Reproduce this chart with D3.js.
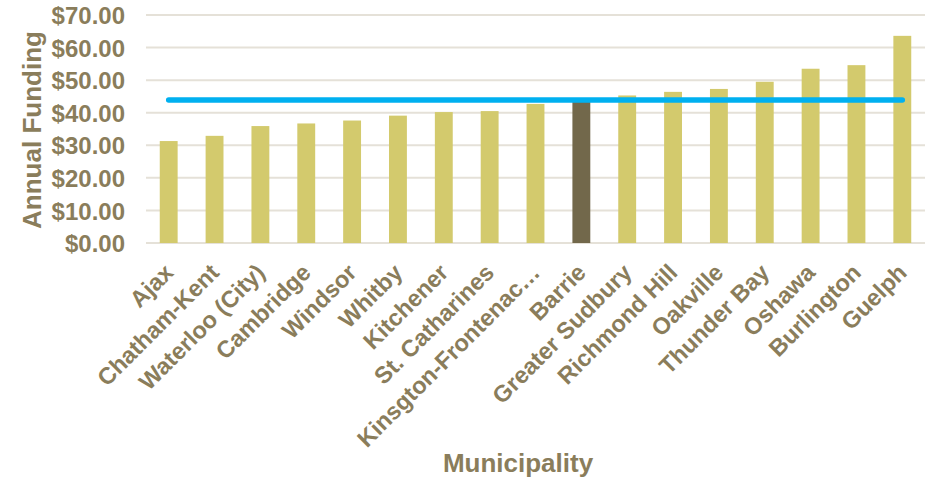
<!DOCTYPE html>
<html>
<head>
<meta charset="utf-8">
<script src="https://cdn.jsdelivr.net/npm/d3@7"></script>
<style>
  body { margin: 0; background: #fff; }
  text { font-family: "Liberation Sans", Arial, sans-serif; font-weight: bold; fill: #8a7d5b; }
</style>
</head>
<body>
<svg width="928" height="481"></svg>
<script>
(function () {

	var municipalities = ["Ajax", "Chatham-Kent", "Waterloo (City)", "Cambridge", "Windsor", "Whitby",
		"Kitchener", "St. Catharines", "Kinsgton-Frontenac\u2026", "Barrie", "Greater Sudbury",
		"Richmond Hill", "Oakville", "Thunder Bay", "Oshawa", "Burlington", "Guelph"];
	var funding = [31.3, 32.9, 35.9, 36.7, 37.6, 39.1, 40.2, 40.5, 42.7, 44.0, 45.3,
		46.4, 47.3, 49.5, 53.5, 54.6, 63.6];
	var average = [43.9];
	var highlight = ["Barrie"];
	var yTicks = [0, 10, 20, 30, 40, 50, 60, 70];

	var svg = d3.select("svg");

	var xScale = d3.scaleBand()
		.domain(municipalities)
		.range([146, 925])
		.paddingInner(0.61)
		.paddingOuter(0.3);

	var yScale = d3.scaleLinear()
		.domain([0, 70])
		.range([243, 15]);

	// gridlines
	svg.append("g")
		.selectAll("line")
		.data(yTicks)
		.enter()
		.append("line")
		.attr("x1", 146)
		.attr("x2", 925)
		.attr("y1", function(d){ return yScale(d); })
		.attr("y2", function(d){ return yScale(d); })
		.attr("stroke", "#e5e1d8")
		.attr("stroke-width", 2);

	// y axis labels
	var yAxis = d3.axisLeft(yScale)
		.tickValues(yTicks)
		.tickSize(0)
		.tickPadding(0)
		.tickFormat(function(d){ return "$" + d3.format(".2f")(d); });

	var yg = svg.append("g")
		.attr("transform", "translate(125,0)")
		.call(yAxis);
	yg.select(".domain").remove();
	yg.selectAll("text")
		.attr("font-size", 24)
		.attr("dy", "0.36em")
		.attr("font-family", null);

	// bars
	svg.selectAll("rect.bar")
		.data(municipalities)
		.enter()
		.append("rect")
		.attr("class", "bar")
		.attr("x", function(d){ return xScale(d); })
		.attr("width", xScale.bandwidth())
		.attr("y", function(d, i){ return yScale(funding[i]); })
		.attr("height", function(d, i){ return yScale(0) - yScale(funding[i]); })
		.attr("fill", function(d){
			return highlight.indexOf(d) >= 0 ? "#72684b" : "#d3ca6d"; });

	// average line, from first bar centre to last bar centre
	var half = xScale.bandwidth() / 2;
	svg.append("line")
		.attr("x1", xScale(municipalities[0]) + half)
		.attr("x2", xScale(municipalities[municipalities.length - 1]) + half)
		.attr("y1", yScale(average[0]))
		.attr("y2", yScale(average[0]))
		.attr("stroke", "#00b0f0")
		.attr("stroke-width", 5.5)
		.attr("stroke-linecap", "round");

	// x labels
	var xAxis = d3.axisBottom(xScale).tickSize(0).tickPadding(0);
	var xg = svg.append("g")
		.attr("transform", "translate(0,243)")
		.call(xAxis);
	xg.select(".domain").remove();
	xg.selectAll("text")
		.attr("font-size", 23.5)
		.attr("font-family", null)
		.attr("text-anchor", "end")
		.attr("y", 0)
		.attr("dy", 0)
		.attr("transform", function(){
			return "translate(" + (half - 3) + ",31) rotate(-45)"; });

	// axis titles
	svg.append("text")
		.attr("transform", "translate(41,130) rotate(-90)")
		.attr("text-anchor", "middle")
		.attr("font-size", 26)
		.text("Annual Funding");

	svg.append("text")
		.attr("x", 518)
		.attr("y", 472)
		.attr("text-anchor", "middle")
		.attr("font-size", 26)
		.text("Municipality");

})();
</script>
</body>
</html>
